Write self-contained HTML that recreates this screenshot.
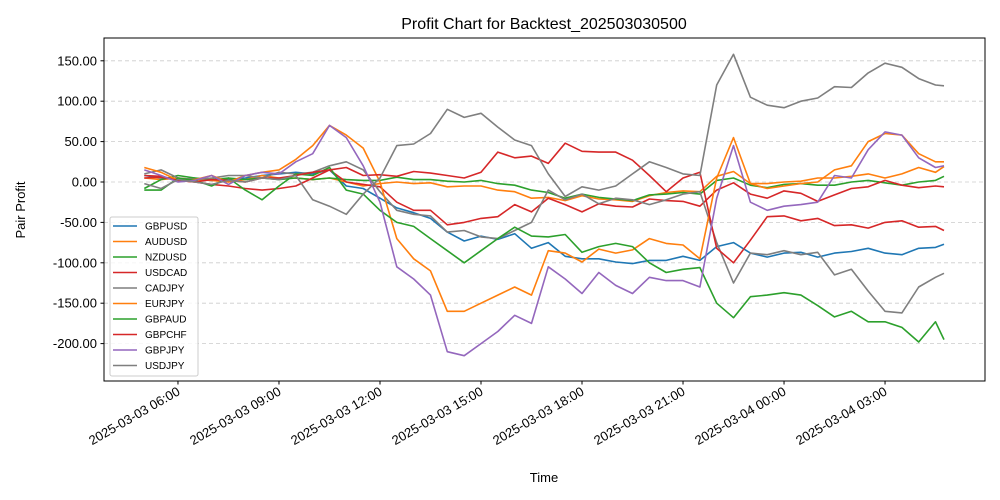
<!DOCTYPE html>
<html><head><meta charset="utf-8"><style>
body{margin:0;background:#fff;}
svg{display:block;font-family:"Liberation Sans","DejaVu Sans",sans-serif;}
</style></head><body>
<svg id="chart" width="1000" height="500" viewBox="0 0 1000 500" xmlns="http://www.w3.org/2000/svg">
<rect width="1000" height="500" fill="#fff"/>
<text x="544" y="29" font-size="16" text-anchor="middle">Profit Chart for Backtest_202503030500</text>
<g id="grid"></g><g id="series"></g>
<rect x="104" y="38" width="881" height="343" fill="none" stroke="#000" stroke-width="1"/>
<g id="axes"></g>
<text x="544" y="482" font-size="13" text-anchor="middle">Time</text>
<text x="25" y="210" font-size="13" text-anchor="middle" transform="rotate(-90 25 210)">Pair Profit</text>
<g id="legend"></g>
</svg>
<script>
const seriesNames=["GBPUSD","AUDUSD","NZDUSD","USDCAD","CADJPY","EURJPY","GBPAUD","GBPCHF","GBPJPY","USDJPY"];
const colors=["#1f77b4","#ff7f0e","#2ca02c","#d62728","#7f7f7f","#ff7f0e","#2ca02c","#d62728","#9467bd","#7f7f7f"];
const yTicks=[150,100,50,0,-50,-100,-150,-200];
const yTickLabels=["150.00","100.00","50.00","0.00","-50.00","-100.00","-150.00","-200.00"];
const xTickHours=[1,4,7,10,13,16,19,22];
const xTickLabels=["2025-03-03 06:00","2025-03-03 09:00","2025-03-03 12:00","2025-03-03 15:00","2025-03-03 18:00","2025-03-03 21:00","2025-03-04 00:00","2025-03-04 03:00"];
const hours=[0,0.5,1,1.5,2,2.5,3,3.5,4,4.5,5,5.5,6,6.5,7,7.5,8,8.5,9,9.5,10,10.5,11,11.5,12,12.5,13,13.5,14,14.5,15,15.5,16,16.5,17,17.5,18,18.5,19,19.5,20,20.5,21,21.5,22,22.5,23,23.5,23.75];
const gbpusd=[8,5,3,5,2,3,5,8,10,12,10,15,-5,-8,-20,-32,-38,-45,-62,-73,-67,-71,-64,-82,-75,-92,-95,-95,-99,-101,-97,-97,-92,-97,-80,-75,-88,-93,-88,-87,-93,-88,-86,-82,-88,-90,-82,-81,-77];
const audusd=[5,3,5,3,2,0,3,8,5,5,3,5,0,-5,-2,0,-2,-1,-6,-5,-5,-10,-12,-20,-19,-23,-17,-21,-22,-24,-17,-13,-11,-12,7,13,-2,-2,0,1,5,5,7,10,5,10,18,12,19];
const nzdusd=[-8,3,8,5,3,5,3,5,3,5,3,5,3,2,2,6,3,3,1,0,2,-2,-4,-10,-13,-20,-15,-19,-21,-23,-16,-15,-13,-15,2,5,-4,-7,-3,-2,-4,-4,0,2,-1,-4,0,2,7];
const usdcad=[8,7,2,0,-3,-5,-8,-10,-8,-5,5,15,0,-3,-6,-25,-35,-35,-53,-50,-45,-43,-28,-37,-20,-28,-37,-27,-30,-31,-21,-23,-24,-30,-10,-1,-15,-20,-11,-14,-24,-16,-8,-6,2,-4,-7,-5,-6];
const cadjpy=[10,15,5,3,5,8,8,5,12,10,12,20,25,15,-12,-35,-40,-42,-62,-60,-68,-70,-60,-50,-10,-22,-15,-27,-20,-22,-28,-22,-15,-12,-75,-125,-88,-90,-85,-90,-87,-115,-108,-135,-160,-162,-130,-118,-113];
const eurjpy=[18,12,2,3,8,0,8,12,15,28,45,70,58,42,0,-70,-95,-110,-160,-160,-150,-140,-130,-140,-85,-88,-99,-83,-88,-84,-70,-76,-78,-95,5,55,-2,-8,-5,-2,0,15,20,50,60,58,35,25,25];
const gbpaud=[-10,-10,5,2,-5,5,-10,-22,-5,10,8,18,-10,-15,-35,-50,-55,-70,-85,-100,-85,-70,-56,-67,-68,-65,-87,-80,-76,-80,-100,-112,-108,-106,-150,-168,-142,-140,-137,-140,-153,-167,-160,-173,-173,-180,-198,-173,-195];
const gbpchf=[5,6,2,0,3,2,0,5,5,8,12,15,18,8,9,7,13,11,8,5,12,37,30,32,23,48,38,37,37,27,8,-12,5,12,-82,-100,-72,-43,-42,-48,-45,-54,-53,-57,-50,-48,-56,-55,-60];
const gbpjpy=[15,8,0,2,8,-3,8,12,10,25,35,70,55,20,-25,-105,-120,-140,-210,-215,-200,-185,-165,-175,-105,-120,-138,-112,-128,-138,-118,-122,-122,-130,-20,45,-25,-35,-30,-28,-25,8,5,40,62,58,30,18,20];
const usdjpy=[-2,-8,3,0,-3,2,0,5,3,8,-22,-30,-40,-15,5,45,47,60,90,80,85,68,52,45,10,-18,-6,-10,-5,10,25,18,10,8,120,158,105,95,92,100,104,118,117,135,147,142,128,120,119];
const allSeries=[gbpusd,audusd,nzdusd,usdcad,cadjpy,eurjpy,gbpaud,gbpchf,gbpjpy,usdjpy];

const NS="http://www.w3.org/2000/svg";
function xScale(h){return 144.3+h*33.67;}
function yScale(v){return 182-v*0.808;}
function mk(tag,attrs,parent){const e=document.createElementNS(NS,tag);for(const k in attrs)e.setAttribute(k,attrs[k]);parent.appendChild(e);return e;}

const grid=document.getElementById('grid'),axes=document.getElementById('axes'),ser=document.getElementById('series'),leg=document.getElementById('legend');
yTicks.forEach((v,i)=>{
  const y=yScale(v);
  const g=mk('line',{x1:104,x2:985,y1:y,y2:y,stroke:'#cccccc','stroke-dasharray':'4,3','stroke-width':0.8},grid);
  
  
  const t=mk('line',{x1:100.5,x2:104,y1:y,y2:y,stroke:'#000'},axes);
  
  
  const l=mk('text',{x:97,y:y+4.5,'font-size':13,'text-anchor':'end'},axes);
  l.textContent=yTickLabels[i];
  
  
});
xTickHours.forEach((h,i)=>{
  const x=xScale(h);
  const t=mk('line',{x1:x,x2:x,y1:381,y2:384.5,stroke:'#000'},axes);
  
  
  const l=mk('text',{x:x+3,y:394,'font-size':13,'text-anchor':'end',transform:`rotate(-30 ${x+3} 394)`},axes);
  l.textContent=xTickLabels[i];
  
  
});
allSeries.forEach((s,k)=>{
  const pts=s.map((v,i)=>xScale(hours[i]).toFixed(1)+','+yScale(v).toFixed(1)).join(' ');
  const p=mk('polyline',{points:pts,fill:'none',stroke:colors[k],'stroke-width':1.6,'stroke-linejoin':'round'},ser);
  
  
});
const lb=mk('rect',{x:110,y:217,width:88,height:159,rx:2,fill:'#fff','fill-opacity':0.8,stroke:'#ccc'},leg);


seriesNames.forEach((n,k)=>{
  const y=226+k*15.5;
  const g=mk('g',{},leg);
  
  
  mk('line',{x1:113,x2:137,y1:y,y2:y,stroke:colors[k],'stroke-width':1.6},g);
  const t=mk('text',{x:145,y:y+3.5,'font-size':10},g);
  t.textContent=n;
});
</script>
</body></html>
